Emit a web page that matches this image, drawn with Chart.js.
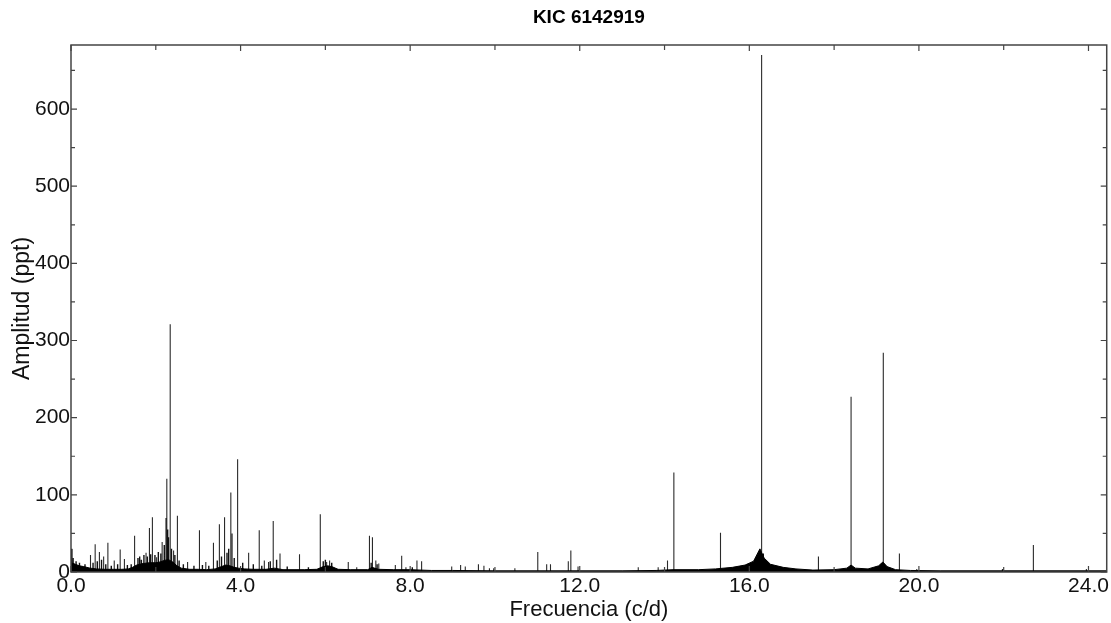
<!DOCTYPE html>
<html>
<head>
<meta charset="utf-8">
<script src="https://cdn.jsdelivr.net/npm/chart.js@4.4.1/dist/chart.umd.min.js"></script>
<style>
  html, body { margin: 0; padding: 0; background: #ffffff; }
  #wrap { width: 1111px; height: 623px; }
</style>
</head>
<body>
<div id="wrap"><canvas id="c" width="1111" height="623"></canvas></div>
<script>
// ---- chart texts ----
const chartTitle = 'KIC 6142919';
const xAxisTitle = 'Frecuencia (c/d)';
const yAxisTitle = 'Amplitud (ppt)';

// ---- tick values ----
const xTickValues = [0, 4, 8, 12, 16, 20, 24];
const xMinorTickValues = [2, 6, 10, 14, 18, 22];
const yTickValues = [0, 100, 200, 300, 400, 500, 600];
const yMinorTickValues = [50, 150, 250, 350, 450, 550, 650];
const xMax = 24.43;
const yMax = 683;

// ---- discrete peaks (frequency c/d, amplitude ppt) ----
const peakFreq = [0.46, 0.57, 0.67, 0.77, 0.87, 1.02, 1.16, 1.26, 1.50, 1.77, 1.85, 1.92, 2.02, 2.15, 2.24, 2.26, 2.34, 2.42, 2.51, 2.75,
  3.03, 3.18, 3.36, 3.50, 3.61, 3.63, 3.77, 3.80, 3.93, 4.19, 4.44, 4.56, 4.66, 4.77, 4.93, 5.39, 5.88, 6.03, 6.10, 6.54, 6.74,
  7.04, 7.11, 7.19, 7.26, 7.65, 7.80, 7.90, 8.16, 8.27, 8.98, 9.19, 9.30, 9.61, 9.74, 9.87, 9.97, 10.47,
  11.01, 11.22, 11.31, 11.73, 11.79, 11.96, 13.38, 13.85, 14.07, 14.22, 15.32, 16.29, 17.63, 18.40, 19.16, 19.54, 19.95,
  21.97, 22.70, 23.95];
const peakAmp = [22, 36, 26, 20, 38, 15, 29, 17, 47, 25, 57, 71, 19, 39, 70, 121, 321, 28, 73, 13,
  54, 13, 38, 62, 71, 40, 103, 50, 146, 25, 54, 15, 13, 66, 24, 23, 75, 13, 15, 13, 6,
  47, 45, 15, 11, 9, 21, 6, 15, 14, 7, 9, 7, 10, 8, 5, 5, 5,
  26, 10, 10, 14, 28, 7, 6, 6, 15, 129, 51, 670, 20, 227, 284, 24, 4,
  4, 35, 4];

// ---- small dense peaks of the low-frequency forest (frequency c/d, amplitude ppt) ----
const minorFreq = [0.05, 0.12, 0.20, 0.33, 0.52, 0.62, 0.72, 0.82, 0.95, 1.10, 1.33, 1.42, 1.58, 1.62, 1.66, 1.72, 1.80, 1.88, 1.98, 2.06,
  2.12, 2.20, 2.28, 2.30, 2.37, 2.45, 2.55, 2.65, 2.90, 3.10, 3.25, 3.45, 3.55, 3.68, 3.72, 3.85, 4.05, 4.30, 4.50, 4.70,
  4.85, 5.10, 5.60, 5.95, 6.00, 6.15, 7.08, 7.22, 8.05, 16.20, 16.33, 19.12];
const minorAmp = [18, 14, 12, 10, 12, 14, 16, 10, 8, 10, 9, 10, 18, 20, 16, 22, 20, 23, 22, 26,
  24, 35, 55, 45, 30, 22, 15, 10, 8, 9, 8, 15, 20, 25, 30, 18, 12, 10, 8, 14,
  16, 7, 6, 14, 16, 12, 12, 10, 6, 22, 24, 11];

// ---- noise floor envelope (frequency c/d, amplitude ppt) ----
const floorFreq = [0.00, 0.02, 0.10, 0.20, 0.30, 0.45, 0.60, 0.80, 1.00, 1.20, 1.35, 1.45, 1.55, 1.70, 1.85, 2.00, 2.10, 2.20, 2.30, 2.40,
  2.50, 2.60, 2.80, 3.00, 3.20, 3.40, 3.55, 3.65, 3.75, 3.85, 3.95, 4.10, 4.30, 4.60, 4.80, 5.00, 5.50, 5.80, 5.95, 6.05,
  6.15, 6.30, 6.60, 7.00, 7.10, 7.25, 7.60, 8.00, 8.50, 9.00, 10.0, 11.0, 12.0, 13.0, 13.8, 14.2, 14.8, 15.2, 15.6, 15.9,
  16.1, 16.25, 16.35, 16.5, 16.8, 17.1, 17.5, 18.0, 18.3, 18.4, 18.5, 18.8, 19.05, 19.15, 19.25, 19.45, 19.8, 20.5, 22.0, 24.43];
const floorAmp = [30, 12, 10, 8, 7, 5, 4, 3.5, 3.5, 3.5, 4, 6, 9, 11, 12, 12, 13, 15, 16, 13,
  8, 5, 3.5, 3.5, 3, 4, 7, 9, 8, 6, 5, 4, 3.5, 3.5, 5, 3, 3, 3.5, 7, 8,
  7, 3.5, 3, 3, 6, 3.5, 3, 3, 2, 2, 1.5, 1.5, 1.5, 1.5, 2, 3, 3, 4, 6, 9,
  14, 30, 18, 10, 6, 4, 2.5, 3, 5, 9, 5, 4, 8, 13, 7, 3, 2, 1.5, 1.5, 1.5];

// ---- build datasets from arrays ----
const spikeData = [];
peakFreq.forEach((f, i) => {
  spikeData.push({ x: f, y: 0 }, { x: f, y: peakAmp[i] }, { x: f, y: 0 });
});
const minorData = [];
minorFreq.forEach((f, i) => {
  minorData.push({ x: f, y: 0 }, { x: f, y: minorAmp[i] }, { x: f, y: 0 });
});
const floorData = floorFreq.map((f, i) => ({ x: f, y: floorAmp[i] }));

Chart.defaults.font.family = "'Liberation Sans', Arial, Helvetica, sans-serif";
Chart.defaults.color = '#111';

const frameTicks = {
  id: 'frameTicks',
  afterDraw(chart) {
    const { ctx, chartArea: a, scales: { x, y } } = chart;
    ctx.save();
    ctx.strokeStyle = '#444';
    ctx.lineWidth = 1.5;
    ctx.strokeRect(a.left, a.top, a.right - a.left, a.bottom - a.top);
    ctx.lineWidth = 1.2;
    ctx.beginPath();
    const xt = (vals, len) => vals.forEach(v => {
      const px = x.getPixelForValue(v);
      ctx.moveTo(px, a.bottom); ctx.lineTo(px, a.bottom - len);
      ctx.moveTo(px, a.top); ctx.lineTo(px, a.top + len);
    });
    const yt = (vals, len) => vals.forEach(v => {
      const py = y.getPixelForValue(v);
      ctx.moveTo(a.left, py); ctx.lineTo(a.left + len, py);
      ctx.moveTo(a.right, py); ctx.lineTo(a.right - len, py);
    });
    xt(xTickValues, 6); xt(xMinorTickValues, 5);
    yt(yTickValues, 6); yt(yMinorTickValues, 4);
    ctx.stroke();
    ctx.restore();
  }
};

new Chart(document.getElementById('c'), {
  type: 'line',
  data: {
    datasets: [
      {
        data: floorData,
        borderColor: '#000',
        backgroundColor: '#000',
        borderWidth: 1,
        pointRadius: 0,
        fill: 'origin',
        tension: 0
      },
      {
        data: minorData,
        borderColor: '#111',
        borderWidth: 1.4,
        borderJoinStyle: 'bevel',
        pointRadius: 0,
        fill: false,
        tension: 0
      },
      {
        data: spikeData,
        borderColor: '#2a2a2a',
        borderWidth: 1.1,
        borderJoinStyle: 'bevel',
        pointRadius: 0,
        fill: false,
        tension: 0
      }
    ]
  },
  options: {
    responsive: false,
    animation: false,
    layout: { padding: { left: 0, right: 4, top: 0, bottom: 0 } },
    plugins: {
      legend: { display: false },
      tooltip: { enabled: false },
      title: {
        display: true,
        fullSize: false,
        text: chartTitle,
        color: '#000',
        font: { size: 19, weight: 'bold' },
        padding: { top: 6, bottom: 16.2 }
      }
    },
    scales: {
      x: {
        type: 'linear',
        position: 'bottom',
        min: 0,
        max: xMax,
        grid: { display: false, drawTicks: false },
        border: { display: false },
        afterBuildTicks: s => { s.ticks = xTickValues.map(v => ({ value: v })); },
        afterFit: s => { s.height = 51; },
        ticks: {
          autoSkip: false,
          maxRotation: 0,
          padding: 2,
          color: '#111',
          font: { size: 21 },
          callback: v => Number(v).toFixed(1)
        },
        title: {
          display: true,
          text: xAxisTitle,
          color: '#111',
          font: { size: 22 },
          padding: { top: 0, bottom: 0 }
        }
      },
      y: {
        type: 'linear',
        position: 'left',
        min: 0,
        max: yMax,
        grid: { display: false, drawTicks: false },
        border: { display: false },
        afterBuildTicks: s => { s.ticks = yTickValues.map(v => ({ value: v })); },
        afterFit: s => { s.width = 71; },
        ticks: {
          autoSkip: false,
          padding: 1,
          color: '#111',
          font: { size: 21 },
          callback: v => String(v)
        },
        title: {
          display: true,
          text: yAxisTitle,
          color: '#111',
          font: { size: 23 },
          padding: { top: 9, bottom: 0 }
        }
      }
    }
  },
  plugins: [frameTicks]
});
</script>
</body>
</html>
